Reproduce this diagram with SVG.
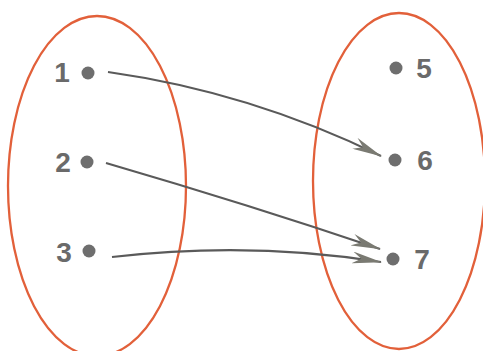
<svg xmlns="http://www.w3.org/2000/svg" width="483" height="351" viewBox="0 0 483 351">
<style>
.set{fill:none;stroke:#e2603a;stroke-width:2.3}
.dot{fill:#6e6e6e}
.lbl{font-family:"Liberation Sans",Arial,sans-serif;font-weight:bold;font-size:28px;fill:#6a6a6a;text-anchor:middle}
.arr{fill:none;stroke:#5a5a5a;stroke-width:2.2;marker-end:url(#ah)}
</style>
<defs>
<marker id="ah" viewBox="0 0 30 12" refX="29" refY="6" markerWidth="30" markerHeight="12" markerUnits="userSpaceOnUse" orient="auto">
<path d="M0,0 L30,6 L0,12 L9,6 Z" fill="#7a7a72"/>
</marker>
</defs>
<rect width="483" height="351" fill="#ffffff"/>
<g id="setA"><ellipse class="set" cx="97" cy="186" rx="89" ry="170"/></g>
<g id="setB"><ellipse class="set" cx="399" cy="181" rx="86" ry="168"/></g>
<g id="n1"><circle class="dot" cx="88" cy="73" r="6.5"/><text class="lbl" x="62" y="82">1</text></g>
<g id="n2"><circle class="dot" cx="87" cy="162" r="6.5"/><text class="lbl" x="63" y="172">2</text></g>
<g id="n3"><circle class="dot" cx="89" cy="251" r="6.5"/><text class="lbl" x="64" y="262">3</text></g>
<g id="n5"><circle class="dot" cx="396" cy="68" r="6.5"/><text class="lbl" x="424" y="78">5</text></g>
<g id="n6"><circle class="dot" cx="395" cy="160" r="6.5"/><text class="lbl" x="425" y="170">6</text></g>
<g id="n7"><circle class="dot" cx="393" cy="259" r="6.5"/><text class="lbl" x="422" y="269">7</text></g>
<g id="connectors">
<path class="arr" d="M108,72 Q250,92 381,156"/>
<path class="arr" d="M106,163 Q250,205 380,249"/>
<path class="arr" d="M112,257 Q250,241 381,262"/>
</g>
</svg>
